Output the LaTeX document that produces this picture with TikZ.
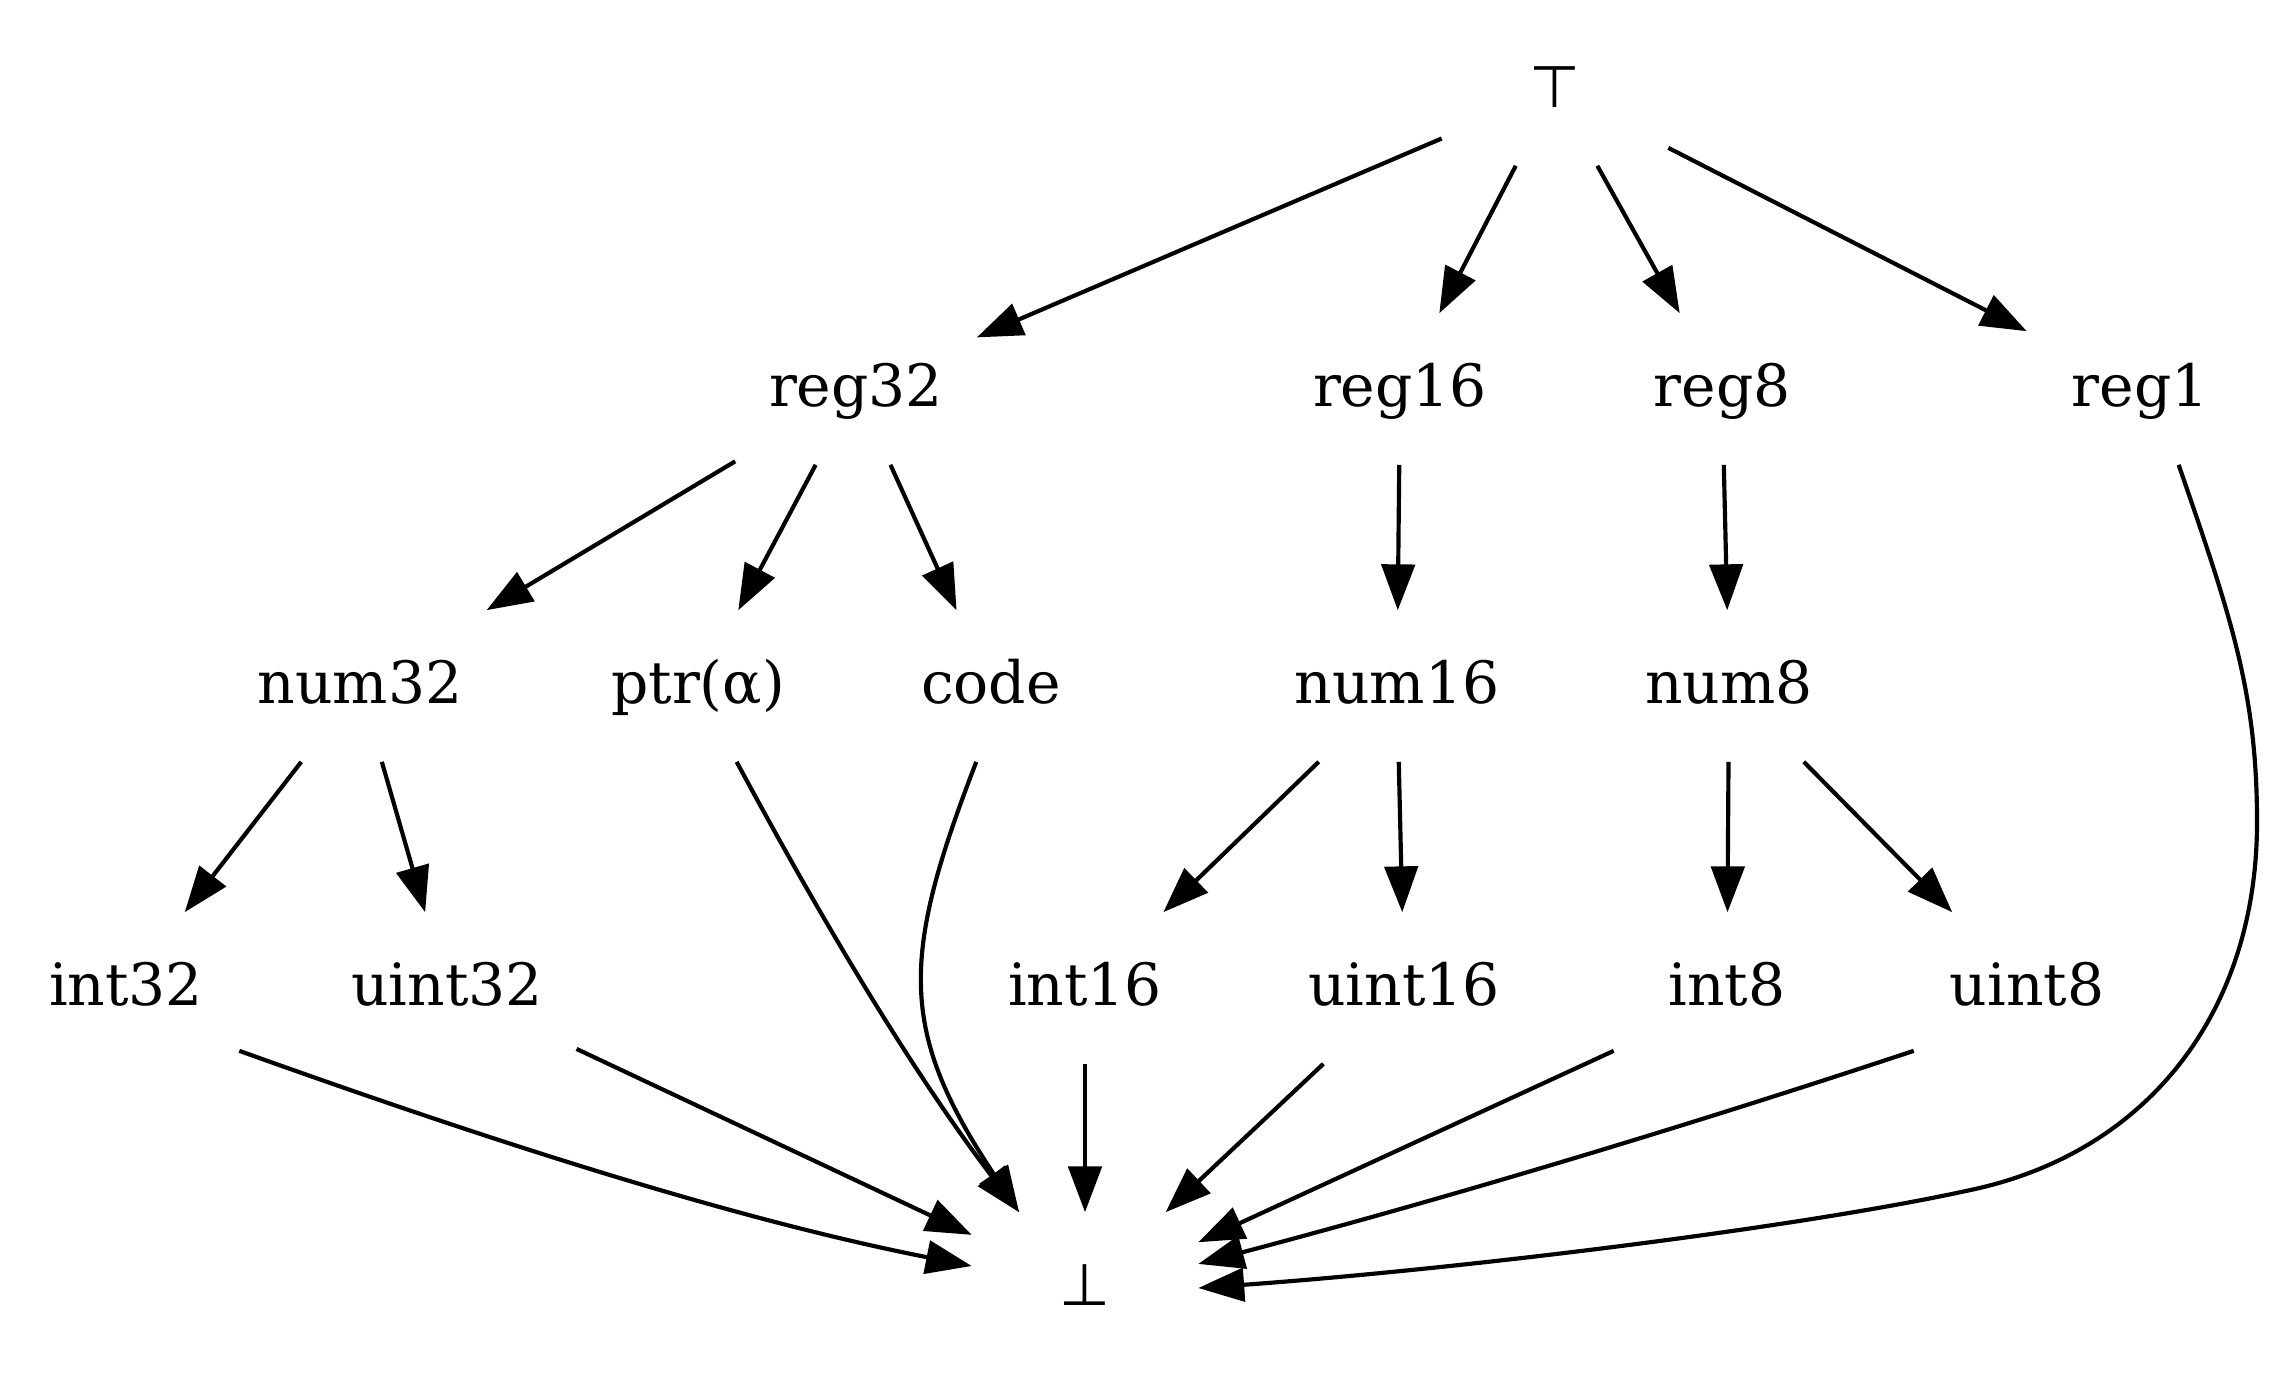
\documentclass[tikz,border=0pt]{standalone}
\usepackage{fontspec}
\setmainfont{DejaVu Serif}
\newfontfamily\symfont{DejaVu Sans}
\usetikzlibrary{arrows.meta}
\begin{document}
\begin{tikzpicture}[x=0.24pt,y=-0.24pt,
  lbl/.style={rectangle, inner xsep=7.92pt, inner ysep=3.96pt,
    minimum width=54pt, minimum height=36pt,
    font=\fontsize{14pt}{16pt}\selectfont, text height=10.6pt, text depth=2pt},
  edge/.style={-{Triangle[length=11pt,width=8pt]}, line width=1pt}]
\useasboundingbox (0,0) rectangle (2275,1383);

% lattice elements, one row per rank
\node[lbl] (top)    at (1555,90)   {\symfont ⊤};
\node[lbl] (reg32)  at (856,389)   {reg32};
\node[lbl] (reg16)  at (1400,389)  {reg16};
\node[lbl] (reg8)   at (1722,389)  {reg8};
\node[lbl] (reg1)   at (2140,389)  {reg1};
\node[lbl] (num32)  at (360,686)   {num32};
\node[lbl] (ptr)    at (698,686)   {ptr(α)};
\node[lbl] (code)   at (991,686)   {code};
\node[lbl] (num16)  at (1397,686)  {num16};
\node[lbl] (num8)   at (1729,686)  {num8};
\node[lbl] (int32)  at (126,988)   {int32};
\node[lbl] (uint32) at (447,988)   {uint32};
\node[lbl] (int16)  at (1085,988)  {int16};
\node[lbl] (uint16) at (1404,988)  {uint16};
\node[lbl] (int8)   at (1727,988)  {int8};
\node[lbl] (uint8)  at (2027,988)  {uint8};
\node[lbl] (bot)    at (1085,1288) {\symfont ⊥};

% ordering edges
\draw[edge] (top) -- (reg32);
\draw[edge] (top) -- (reg16);
\draw[edge] (top) -- (reg8);
\draw[edge] (top) -- (reg1);
\draw[edge] (reg32) -- (num32);
\draw[edge] (reg32) -- (ptr);
\draw[edge] (reg32) -- (code);
\draw[edge] (reg16) -- (num16);
\draw[edge] (reg8) -- (num8);
\draw[edge] (num32) -- (int32);
\draw[edge] (num32) -- (uint32);
\draw[edge] (num16) -- (int16);
\draw[edge] (num16) -- (uint16);
\draw[edge] (num8) -- (int8);
\draw[edge] (num8) -- (uint8);
\draw[edge] (int16) -- (bot);
\draw[edge] (uint16) -- (bot);
\draw[edge] (uint32) -- (bot);
\draw[edge] (int8.209) -- (bot.22);
\draw[edge] (uint8.209) .. controls (1675,1130) and (1440,1200) .. (bot.12);
\draw[edge] (int32.-29) .. controls (488,1140) and (733,1219) .. (bot.169);
\draw[edge] (ptr.-63) .. controls (820,917) and (911,1070) .. (bot.131);
\draw[edge] (code.-101) .. controls (901,957) and (898,1030) .. (bot.131);
\draw[edge] (reg1.-63) .. controls (2231,617) and (2257,692) .. (2257,822)
  .. controls (2257,1010) and (2150,1150) .. (1975,1189)
  .. controls (1800,1228) and (1450,1270) .. (bot.east);
\end{tikzpicture}
\end{document}
